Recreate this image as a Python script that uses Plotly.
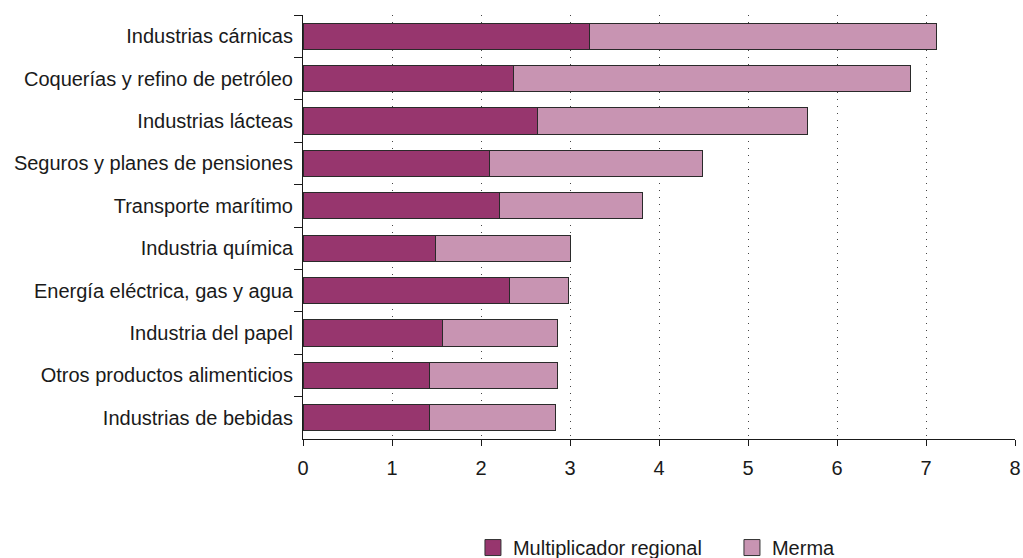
import plotly.graph_objects as go

categories = [
    "Industrias cárnicas",
    "Coquerías y refino de petróleo",
    "Industrias lácteas",
    "Seguros y planes de pensiones",
    "Transporte marítimo",
    "Industria química",
    "Energía eléctrica, gas y agua",
    "Industria del papel",
    "Otros productos alimenticios",
    "Industrias de bebidas",
]
multiplicador = [3.22, 2.37, 2.64, 2.10, 2.21, 1.49, 2.32, 1.57, 1.42, 1.42]
totales = [7.12, 6.83, 5.67, 4.49, 3.81, 3.00, 2.98, 2.86, 2.86, 2.84]
merma = [round(t - m, 2) for t, m in zip(totales, multiplicador)]
x_ticks = [0, 1, 2, 3, 4, 5, 6, 7, 8]
series_names = ["Multiplicador regional", "Merma"]

DARK = "#97366E"
LIGHT = "#C894B2"
EDGE = "#2a2a2a"

fig = go.Figure()
for name, vals, col in [(series_names[0], multiplicador, DARK), (series_names[1], merma, LIGHT)]:
    fig.add_trace(go.Bar(
        y=categories, x=vals, orientation="h", name=name, showlegend=False,
        marker=dict(color=col, line=dict(color=EDGE, width=1)), width=0.62,
    ))
for name, col in [(series_names[0], DARK), (series_names[1], LIGHT)]:
    fig.add_trace(go.Scatter(
        x=[None], y=[None], mode="markers", name=name,
        marker=dict(symbol="square", size=19, color=col, line=dict(color="#333333", width=1)),
    ))

fig.update_layout(
    barmode="stack",
    width=1023, height=558,
    margin=dict(l=303, r=8, t=15, b=119, autoexpand=False),
    plot_bgcolor="white", paper_bgcolor="white",
    font=dict(family="Liberation Sans, Arial, sans-serif", size=20, color="#1a1a1a"),
    showlegend=True,
    legend=dict(orientation="h", x=0.2387, xanchor="left", y=-0.256, yanchor="middle",
                font=dict(size=20), traceorder="normal", itemwidth=30,
                tracegroupgap=0, itemsizing="trace", entrywidth=214,
                entrywidthmode="pixels"),
    xaxis=dict(
        range=[0, 8], tickvals=x_ticks, ticks="outside", ticklen=6, tickcolor="#1a1a1a",
        showline=True, linecolor="#1a1a1a", linewidth=1,
        showgrid=True, gridcolor="#444444", gridwidth=1, griddash="1px,6px",
        zeroline=False, automargin=False, ticklabeloverflow="allow",
        ticklabelstandoff=5,
    ),
    yaxis=dict(
        categoryorder="array", categoryarray=categories, autorange="reversed",
        ticks="outside", ticklen=8, tickcolor="#1a1a1a", tickson="boundaries",
        showline=True, linecolor="#1a1a1a", linewidth=1, showgrid=False,
        ticklabelstandoff=5, automargin=False,
    ),
)

fig.write_html(
    "out.html",
    config={"displayModeBar": False},
    post_script="document.body.style.margin='0';document.body.style.overflow='hidden';",
)
